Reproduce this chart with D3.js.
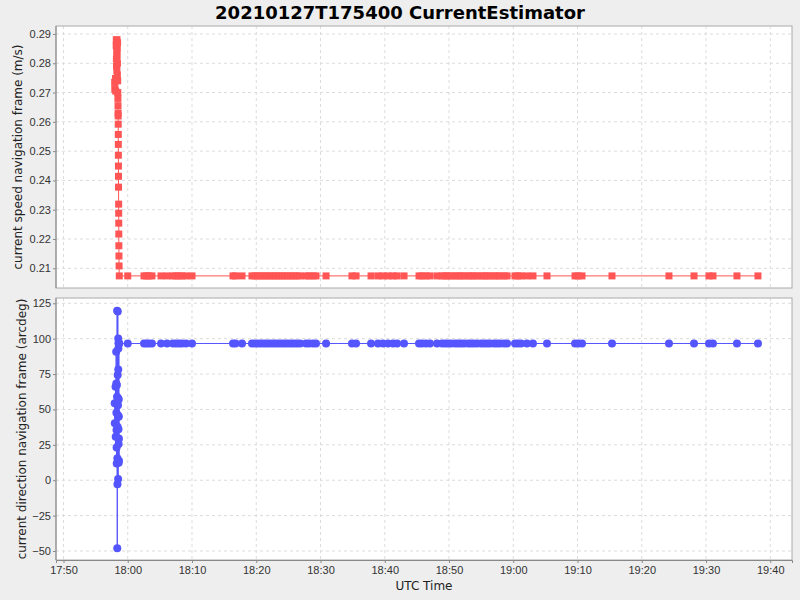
<!DOCTYPE html>
<html>
<head>
<meta charset="utf-8">
<script src="https://cdn.jsdelivr.net/npm/d3@7"></script>
<style>
  html, body { margin: 0; padding: 0; background: #eeeeee; }
  svg { display: block; font-family: "DejaVu Sans", sans-serif; }
</style>
</head>
<body>
<div id="chart"></div>
<script>
// ========= DATA =========
const TITLE = "20210127T175400 CurrentEstimator";
const X_LABEL = "UTC Time";
const Y1_LABEL = "current speed navigation frame (m/s)";
const Y2_LABEL = "current direction navigation frame (arcdeg)";

// muestras (hora UTC, velocidad m/s, direccion arcdeg)
const TIMES = [
  "17:57:58", "17:57:59", "17:58:06", "17:58:07.5", "17:58:12", "17:58:13",
  "17:58:14", "17:58:15", "17:58:16", "17:58:17", "17:58:18.5", "17:58:20",
  "17:58:21", "17:58:22", "17:58:23", "17:58:24", "17:58:25", "17:58:26",
  "17:58:27", "17:58:28", "17:58:29", "17:58:30", "17:58:30.5", "17:58:31",
  "17:58:31.5", "17:58:32", "17:58:32.5", "17:58:33", "17:58:33.5", "17:58:34",
  "17:58:35", "17:58:35.5", "17:58:36", "17:58:36.5", "17:58:37", "17:58:38",
  "17:58:39", "17:58:41",
  "18:00:00", "18:02:32", "18:02:55", "18:03:18", "18:03:46", "18:05:11",
  "18:06:07", "18:07:02", "18:07:31", "18:07:59", "18:08:26", "18:09:04",
  "18:10:00", "18:16:23", "18:16:46", "18:17:47", "18:19:20", "18:19:49",
  "18:20:16", "18:20:44", "18:21:13", "18:21:40", "18:22:08", "18:22:37",
  "18:23:04", "18:23:32", "18:24:01", "18:24:28", "18:24:56", "18:25:25",
  "18:25:52", "18:26:20", "18:26:49", "18:27:44", "18:28:13", "18:28:50",
  "18:29:18", "18:30:52", "18:34:54", "18:35:32", "18:37:52", "18:38:57",
  "18:39:44", "18:40:31", "18:41:17", "18:41:55", "18:43:00", "18:45:20",
  "18:45:48", "18:46:25", "18:47:02", "18:48:08", "18:48:55", "18:49:23",
  "18:49:50", "18:50:19", "18:50:56", "18:51:24", "18:51:52", "18:52:20",
  "18:52:58", "18:53:25", "18:53:53", "18:54:22", "18:54:59", "18:55:27",
  "18:55:55", "18:56:23", "18:57:00", "18:57:28", "18:57:56", "18:58:34",
  "18:59:02", "19:00:16", "19:00:44", "19:01:13", "19:02:08", "19:03:04",
  "19:05:15", "19:09:37", "19:10:05", "19:10:42", "19:15:22", "19:24:14",
  "19:28:08", "19:30:28", "19:31:05", "19:34:49", "19:38:05"
];

const SPEED = [
  0.2735, 0.2712, 0.2748, 0.2705, 0.2860, 0.2880,
  0.2815, 0.2790, 0.2870, 0.2840, 0.2775, 0.2880,
  0.2825, 0.2850, 0.2760, 0.2800, 0.2870, 0.2740,
  0.2700, 0.2680, 0.2655, 0.2630, 0.2620, 0.2592,
  0.2557, 0.2523, 0.2486, 0.2449, 0.2414, 0.2377,
  0.2319, 0.2288, 0.2254, 0.2217, 0.2177, 0.2142,
  0.2108, 0.2074,
  0.2074, 0.2074, 0.2074, 0.2074, 0.2074, 0.2074,
  0.2074, 0.2074, 0.2074, 0.2074, 0.2074, 0.2074,
  0.2074, 0.2074, 0.2074, 0.2074, 0.2074, 0.2074,
  0.2074, 0.2074, 0.2074, 0.2074, 0.2074, 0.2074,
  0.2074, 0.2074, 0.2074, 0.2074, 0.2074, 0.2074,
  0.2074, 0.2074, 0.2074, 0.2074, 0.2074, 0.2074,
  0.2074, 0.2074, 0.2074, 0.2074, 0.2074, 0.2074,
  0.2074, 0.2074, 0.2074, 0.2074, 0.2074, 0.2074,
  0.2074, 0.2074, 0.2074, 0.2074, 0.2074, 0.2074,
  0.2074, 0.2074, 0.2074, 0.2074, 0.2074, 0.2074,
  0.2074, 0.2074, 0.2074, 0.2074, 0.2074, 0.2074,
  0.2074, 0.2074, 0.2074, 0.2074, 0.2074, 0.2074,
  0.2074, 0.2074, 0.2074, 0.2074, 0.2074, 0.2074,
  0.2074, 0.2074, 0.2074, 0.2074, 0.2074, 0.2074,
  0.2074, 0.2074, 0.2074, 0.2074, 0.2074
];

const DIRECTION = [
  54.3, 40.2, 66.0, 30.7, 90.8, 68.4,
  47.7, 35.5, 23.2, 11.9, 67.3, 59.0,
  119.7, -48.1, 15.5, -2.9, 37.8, 74.3,
  119.2, 45.9, 53.0, 0.8, 57.9, 100.2,
  78.3, 44.9, 93.0, 96.7, 36.0, 28.9,
  25.6, 12.4, 57.0, 45.0, 29.5, 13.7,
  96.7, 96.6,
  96.6, 96.6, 96.6, 96.6, 96.6, 96.6,
  96.6, 96.6, 96.6, 96.6, 96.6, 96.6,
  96.6, 96.6, 96.6, 96.6, 96.6, 96.6,
  96.6, 96.6, 96.6, 96.6, 96.6, 96.6,
  96.6, 96.6, 96.6, 96.6, 96.6, 96.6,
  96.6, 96.6, 96.6, 96.6, 96.6, 96.6,
  96.6, 96.6, 96.6, 96.6, 96.6, 96.6,
  96.6, 96.6, 96.6, 96.6, 96.6, 96.6,
  96.6, 96.6, 96.6, 96.6, 96.6, 96.6,
  96.6, 96.6, 96.6, 96.6, 96.6, 96.6,
  96.6, 96.6, 96.6, 96.6, 96.6, 96.6,
  96.6, 96.6, 96.6, 96.6, 96.6, 96.6,
  96.6, 96.6, 96.6, 96.6, 96.6, 96.6,
  96.6, 96.6, 96.6, 96.6, 96.6, 96.6,
  96.6, 96.6, 96.6, 96.6, 96.6
];

const X_DOMAIN = ["17:48:50", "19:43:23"];
const Y1_DOMAIN = [0.20327, 0.29272];
const Y1_TICKS = [0.21, 0.22, 0.23, 0.24, 0.25, 0.26, 0.27, 0.28, 0.29];
const Y2_DOMAIN = [-56.36, 128.74];
const Y2_TICKS = [-50, -25, 0, 25, 50, 75, 100, 125];

// ========= HELPERS =========
function parseTime(s){
  const [h, m, sec] = s.split(":");
  const secs = parseFloat(sec);
  return new Date(Date.UTC(2021, 0, 27, +h, +m, Math.floor(secs), Math.round((secs % 1) * 1000)));
}

const records = TIMES.map((t, i) => ({ t: parseTime(t), speed: SPEED[i], dir: DIRECTION[i] }));

// ========= LAYOUT =========
const W = 800, H = 600;
const plotL = 56, plotR = 792;
const p1 = { top: 26, bottom: 288 };
const p2 = { top: 298, bottom: 560 };

const svg = d3.select("#chart").append("svg")
  .attr("width", W).attr("height", H);

svg.append("rect").attr("width", W).attr("height", H).attr("fill", "#eeeeee");

const x = d3.scaleUtc().domain(X_DOMAIN.map(parseTime)).range([plotL, plotR]);
const xTicks = x.ticks(d3.utcMinute.every(10));
const fmt = d3.utcFormat("%H:%M");

function drawPanel(panel, yScale, yTicks, yFmt, key, color, shape, label, labelX){
  const g = svg.append("g");

  g.append("rect")
    .attr("x", plotL).attr("y", panel.top)
    .attr("width", plotR - plotL).attr("height", panel.bottom - panel.top)
    .attr("fill", "#ffffff");

  // rejilla
  g.selectAll("line.vgrid").data(xTicks).enter().append("line")
    .attr("x1", d => x(d)).attr("x2", d => x(d))
    .attr("y1", panel.top).attr("y2", panel.bottom)
    .attr("stroke", "#dcdcdc").attr("stroke-dasharray", "3,3");
  g.selectAll("line.hgrid").data(yTicks).enter().append("line")
    .attr("x1", plotL).attr("x2", plotR)
    .attr("y1", d => yScale(d)).attr("y2", d => yScale(d))
    .attr("stroke", "#dcdcdc").attr("stroke-dasharray", "3,3");

  // eje y
  const yAxis = g.append("g")
    .attr("transform", `translate(${plotL},0)`)
    .call(d3.axisLeft(yScale).tickValues(yTicks).tickFormat(yFmt).tickSize(3).tickPadding(2));
  yAxis.select(".domain").remove();
  yAxis.selectAll("line").attr("stroke", "#888");
  yAxis.selectAll("text").attr("font-size", 11).attr("fill", "#333");

  // linea + marcadores
  const clipId = "clip-" + key;
  g.append("clipPath").attr("id", clipId).append("rect")
    .attr("x", plotL).attr("y", panel.top)
    .attr("width", plotR - plotL).attr("height", panel.bottom - panel.top);

  const data = g.append("g").attr("clip-path", `url(#${clipId})`);
  const line = d3.line().x(d => x(d.t)).y(d => yScale(d[key]));

  data.append("path").datum(records)
    .attr("d", line).attr("fill", "none")
    .attr("stroke", color).attr("stroke-width", 1);

  if (shape === "square"){
    data.selectAll("rect.pt").data(records).enter().append("rect")
      .attr("x", d => x(d.t) - 3.5).attr("y", d => yScale(d[key]) - 3.5)
      .attr("width", 7).attr("height", 7)
      .attr("fill", color);
  } else {
    data.selectAll("circle.pt").data(records).enter().append("circle")
      .attr("cx", d => x(d.t)).attr("cy", d => yScale(d[key]))
      .attr("r", 4)
      .attr("fill", color);
  }

  // borde
  g.append("rect")
    .attr("x", plotL).attr("y", panel.top)
    .attr("width", plotR - plotL).attr("height", panel.bottom - panel.top)
    .attr("fill", "none").attr("stroke", "#aaaaaa");
  g.append("line")
    .attr("x1", plotL).attr("x2", plotL)
    .attr("y1", panel.top).attr("y2", panel.bottom)
    .attr("stroke", "#888");

  // etiqueta eje y
  const cy = (panel.top + panel.bottom) / 2;
  g.append("text")
    .attr("transform", `translate(${labelX},${cy}) rotate(-90)`)
    .attr("text-anchor", "middle")
    .attr("font-size", 12).attr("fill", "#222")
    .text(label);
}

const y1 = d3.scaleLinear().domain(Y1_DOMAIN).range([p1.bottom, p1.top]);
const y2 = d3.scaleLinear().domain(Y2_DOMAIN).range([p2.bottom, p2.top]);

drawPanel(p1, y1, Y1_TICKS, d3.format(".2f"), "speed", "#ff5555", "square", Y1_LABEL, 22);
drawPanel(p2, y2, Y2_TICKS, d3.format("d"), "dir", "#5555ff", "circle", Y2_LABEL, 26);

// eje x (solo abajo)
const xAxis = svg.append("g")
  .attr("transform", `translate(0,${p2.bottom})`)
  .call(d3.axisBottom(x).tickValues(xTicks).tickFormat(fmt).tickSize(3).tickPadding(3));
xAxis.select(".domain").attr("stroke", "#888");
xAxis.selectAll("line").attr("stroke", "#888");
xAxis.selectAll("text").attr("font-size", 11).attr("fill", "#333");

svg.append("text")
  .attr("x", (plotL + plotR) / 2).attr("y", 590)
  .attr("text-anchor", "middle")
  .attr("font-size", 12).attr("fill", "#222")
  .text(X_LABEL);

svg.append("text")
  .attr("x", W / 2).attr("y", 19)
  .attr("text-anchor", "middle")
  .attr("font-size", 18).attr("font-weight", "bold").attr("fill", "#000")
  .text(TITLE);
</script>
</body>
</html>
